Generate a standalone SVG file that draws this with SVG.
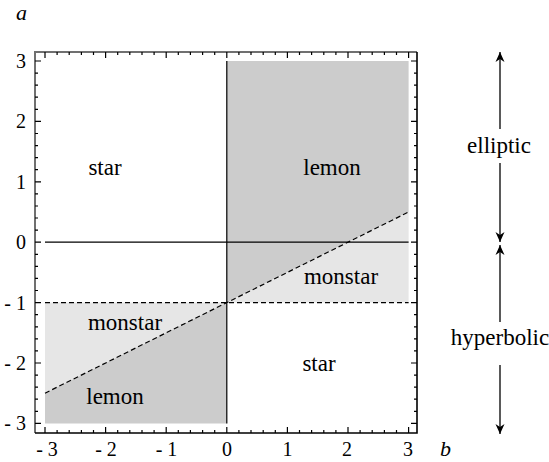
<svg xmlns="http://www.w3.org/2000/svg" width="549" height="462" viewBox="0 0 549 462" font-family="Liberation Serif, DejaVu Serif, serif">
<style>
.lbl{font-size:23px;text-anchor:middle}
.tk{font-size:20px}
.tkl{text-anchor:end}
.tkb{text-anchor:middle}
.ax{font-style:italic;font-size:22px}
.dark{fill:#cccccc}
.light{fill:#e6e6e6}
.solid{stroke:#000;stroke-width:1.2;fill:none}
.dash{stroke:#000;stroke-width:1.2;fill:none;stroke-dasharray:5 3}
.tick{stroke:#000;stroke-width:1.2;fill:none}
.arr{stroke:#000;stroke-width:1.3;fill:none}
</style>
<defs>
<marker id="ah" viewBox="-11 -5 12 10" refX="0" refY="0" markerWidth="12" markerHeight="10" markerUnits="userSpaceOnUse" orient="auto">
<path d="M0,0 L-10,-4.5 L-7,0 L-10,4.5 Z" fill="#000"/>
</marker>
</defs>
<rect width="549" height="462" fill="#fff"/>
<g id="regions">
<path id="lemon-upper" class="dark" d="M226.8,61 H408.6 V212 L226.8,302.6 Z"/>
<path id="monstar-right" class="light" d="M226.8,302.6 L408.6,212 V302.6 Z"/>
<path id="monstar-left" class="light" d="M45,302.6 H226.8 L45,393.2 Z"/>
<path id="lemon-lower" class="dark" d="M45,393.2 L226.8,302.6 V423.4 H45 Z"/>
</g>
<g id="lines">
<path class="solid" d="M226.8,61 V423.4"/>
<path class="solid" d="M45,242.2 H408.6"/>
<path class="dash" d="M45,302.6 H408.6"/>
<path class="dash" d="M45,393.2 L408.6,212"/>
</g>
<g id="frame">
<path d="M35,433 V52 H417" stroke="#707070" stroke-width="2" fill="none"/>
<path d="M417,52 V433 H35" stroke="#000" stroke-width="1.6" fill="none"/>
<path class="tick" d="M45,52v6M105.6,52v6M166.2,52v6M226.8,52v6M287.4,52v6M348,52v6M408.6,52v6
M57.1,52v3M69.2,52v3M81.4,52v3M93.5,52v3M117.7,52v3M129.8,52v3M142,52v3M154.1,52v3M178.3,52v3M190.4,52v3M202.6,52v3M214.7,52v3M238.9,52v3M251,52v3M263.2,52v3M275.3,52v3M299.5,52v3M311.6,52v3M323.8,52v3M335.9,52v3M360.1,52v3M372.2,52v3M384.4,52v3M396.5,52v3
M45,433v-6M105.6,433v-6M166.2,433v-6M226.8,433v-6M287.4,433v-6M348,433v-6M408.6,433v-6
M57.1,433v-3M69.2,433v-3M81.4,433v-3M93.5,433v-3M117.7,433v-3M129.8,433v-3M142,433v-3M154.1,433v-3M178.3,433v-3M190.4,433v-3M202.6,433v-3M214.7,433v-3M238.9,433v-3M251,433v-3M263.2,433v-3M275.3,433v-3M299.5,433v-3M311.6,433v-3M323.8,433v-3M335.9,433v-3M360.1,433v-3M372.2,433v-3M384.4,433v-3M396.5,433v-3
M35,61h6M35,121.4h6M35,181.8h6M35,242.2h6M35,302.6h6M35,363h6M35,423.4h6
M35,73.1h3M35,85.2h3M35,97.2h3M35,109.3h3M35,133.5h3M35,145.6h3M35,157.6h3M35,169.7h3M35,193.9h3M35,206h3M35,218h3M35,230.1h3M35,254.3h3M35,266.4h3M35,278.4h3M35,290.5h3M35,314.7h3M35,326.8h3M35,338.8h3M35,350.9h3M35,375.1h3M35,387.2h3M35,399.2h3M35,411.3h3
M417,61h-6M417,121.4h-6M417,181.8h-6M417,242.2h-6M417,302.6h-6M417,363h-6M417,423.4h-6
M417,73.1h-3M417,85.2h-3M417,97.2h-3M417,109.3h-3M417,133.5h-3M417,145.6h-3M417,157.6h-3M417,169.7h-3M417,193.9h-3M417,206h-3M417,218h-3M417,230.1h-3M417,254.3h-3M417,266.4h-3M417,278.4h-3M417,290.5h-3M417,314.7h-3M417,326.8h-3M417,338.8h-3M417,350.9h-3M417,375.1h-3M417,387.2h-3M417,399.2h-3M417,411.3h-3"/>
</g>
<g id="axis-labels">
<text class="tk tkl" x="26" y="68">3</text>
<text class="tk tkl" x="26" y="128.4">2</text>
<text class="tk tkl" x="26" y="188.8">1</text>
<text class="tk tkl" x="26" y="249.2">0</text>
<text class="tk tkl" x="26" y="309.6">- 1</text>
<text class="tk tkl" x="26" y="370">- 2</text>
<text class="tk tkl" x="26" y="430.4">- 3</text>
<text class="tk tkb" x="47" y="456">- 3</text>
<text class="tk tkb" x="106" y="456">- 2</text>
<text class="tk tkb" x="166.5" y="456">- 1</text>
<text class="tk tkb" x="227" y="456">0</text>
<text class="tk tkb" x="287.5" y="456">1</text>
<text class="tk tkb" x="347" y="456">2</text>
<text class="tk tkb" x="408" y="456">3</text>
<text class="ax" x="16" y="20">a</text>
<text class="ax" x="440" y="456">b</text>
</g>
<g id="node-star-upper"><text class="lbl" x="105" y="175">star</text></g>
<g id="node-lemon-upper"><text class="lbl" x="332" y="175">lemon</text></g>
<g id="node-monstar-right"><text class="lbl" x="341" y="284">monstar</text></g>
<g id="node-monstar-left"><text class="lbl" x="125" y="330">monstar</text></g>
<g id="node-star-lower"><text class="lbl" x="319" y="371">star</text></g>
<g id="node-lemon-lower"><text class="lbl" x="115" y="404">lemon</text></g>
<g id="node-elliptic"><text class="lbl" x="499" y="153">elliptic</text></g>
<g id="node-hyperbolic"><text class="lbl" x="500" y="345">hyperbolic</text></g>
<g id="connectors">
<path class="arr" d="M500,129 V52" marker-end="url(#ah)"/>
<path class="arr" d="M500,163 V242" marker-end="url(#ah)"/>
<path class="arr" d="M500,322 V245" marker-end="url(#ah)"/>
<path class="arr" d="M500,365 V434" marker-end="url(#ah)"/>
</g>
</svg>
